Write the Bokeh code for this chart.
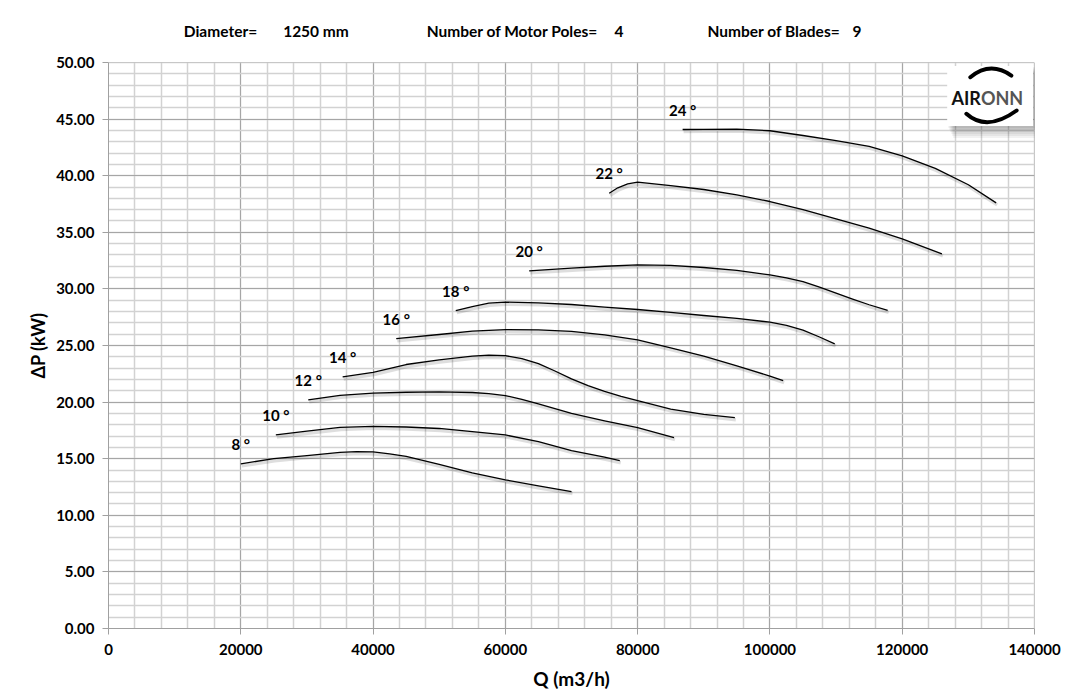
from bokeh.plotting import figure
from bokeh.models import Range1d, SingleIntervalTicker, PrintfTickFormatter, LinearAxis, FixedTicker
from bokeh.core.properties import value
from bokeh.embed import file_html
from bokeh.resources import INLINE

# ---------------- data ----------------
angles = [8, 10, 12, 14, 16, 18, 20, 22, 24]

q8 = [20000, 25000, 30000, 35000, 37500, 40000, 42500, 45000, 50000, 55000, 60000, 65000, 70000]
p8 = [14.55, 15.0, 15.28, 15.55, 15.63, 15.6, 15.43, 15.2, 14.5, 13.75, 13.13, 12.6, 12.1]

q10 = [25300, 30000, 35000, 40000, 45000, 50000, 55000, 60000, 65000, 70000, 75000, 77300]
p10 = [17.1, 17.43, 17.76, 17.86, 17.8, 17.67, 17.4, 17.1, 16.5, 15.72, 15.13, 14.82]

q12 = [30200, 35000, 40000, 45000, 50000, 55000, 57500, 60000, 62500, 65000, 70000, 75000, 80000, 85500]
p12 = [20.2, 20.6, 20.8, 20.87, 20.9, 20.85, 20.75, 20.58, 20.25, 19.85, 19.0, 18.35, 17.75, 16.87]

q14 = [35400, 40000, 45000, 50000, 55000, 57500, 60000, 62500, 65000, 67500, 70000, 72500, 75000, 77500, 80000, 85000, 90000, 94700]
p14 = [22.22, 22.62, 23.32, 23.73, 24.06, 24.15, 24.1, 23.85, 23.4, 22.75, 22.05, 21.45, 20.95, 20.5, 20.12, 19.38, 18.92, 18.62]

q16 = [43500, 50000, 55000, 60000, 65000, 70000, 75000, 80000, 85000, 90000, 95000, 100000, 102000]
p16 = [25.6, 25.97, 26.27, 26.41, 26.38, 26.24, 25.94, 25.5, 24.8, 24.06, 23.2, 22.3, 21.9]

q18 = [52500, 55000, 57500, 60000, 65000, 70000, 75000, 80000, 85000, 90000, 95000, 100000, 102500, 105000, 107500, 109800]
p18 = [28.09, 28.44, 28.74, 28.83, 28.77, 28.62, 28.39, 28.18, 27.92, 27.65, 27.4, 27.06, 26.78, 26.35, 25.75, 25.15]

q20 = [63600, 70000, 75000, 80000, 85000, 90000, 95000, 100000, 102500, 105000, 107500, 110000, 112500, 115000, 117800]
p20 = [31.6, 31.83, 32.0, 32.13, 32.07, 31.89, 31.63, 31.24, 30.98, 30.65, 30.15, 29.62, 29.1, 28.6, 28.1]

q22 = [75700, 77000, 78500, 80000, 85000, 90000, 95000, 100000, 105000, 110000, 115000, 120000, 126000]
p22 = [38.45, 38.93, 39.28, 39.43, 39.13, 38.78, 38.31, 37.72, 37.01, 36.19, 35.36, 34.42, 33.1]

q24 = [86800, 90000, 95000, 100000, 105000, 110000, 115000, 120000, 125000, 130000, 134200]
p24 = [44.08, 44.1, 44.12, 43.97, 43.55, 43.1, 42.6, 41.75, 40.65, 39.2, 37.6]

curves_q = [q8, q10, q12, q14, q16, q18, q20, q22, q24]
curves_p = [p8, p10, p12, p14, p16, p18, p20, p22, p24]

x_ticks_step = 20000
y_ticks_step = 5
header_texts = ["Diameter=", "1250 mm", "Number of Motor Poles=", "4", "Number of Blades=", "9"]
header_pos = [16930, 31370, 61070, 77170, 100600, 113150]

FONT = "Lato"

# ---------------- figure ----------------
p = figure(width=1073, height=697,
           x_range=Range1d(0, 140000.01), y_range=Range1d(0, 50.0001),
           output_backend="svg", toolbar_location=None,
           min_border_left=108, min_border_right=39,
           min_border_top=62, min_border_bottom=69)
p.outline_line_color = None
p.background_fill_color = "white"
p.border_fill_color = "white"

xt = SingleIntervalTicker(interval=x_ticks_step, num_minor_ticks=5)
yt = SingleIntervalTicker(interval=y_ticks_step, num_minor_ticks=5)
p.xaxis.ticker = xt
p.yaxis.ticker = yt
p.xgrid.ticker = xt
p.ygrid.ticker = yt
p.xaxis.formatter = PrintfTickFormatter(format="%d")
p.yaxis.formatter = PrintfTickFormatter(format="%.2f")

for g in (p.xgrid, p.ygrid):
    g.grid_line_color = "#a6a6a6"
    g.grid_line_width = 1
    g.minor_grid_line_color = "#d2d2d2"
    g.minor_grid_line_width = 1.5

for ax in (p.xaxis, p.yaxis):
    ax.axis_line_color = "#a0a0a0"
    ax.major_tick_line_color = "#a0a0a0"
    ax.major_tick_out = 6
    ax.major_tick_in = 0
    ax.minor_tick_line_color = None
    ax.major_label_text_font = FONT
    ax.major_label_text_font_style = "bold"
    ax.major_label_text_font_size = "15px"
    ax.major_label_text_color = "black"
    ax.axis_label_text_font = FONT
    ax.axis_label_text_font_style = "bold"
    ax.axis_label_text_color = "black"

p.xaxis.axis_label = "Q (m3/h)"
p.yaxis.axis_label = "ΔP (kW)"
p.xaxis.axis_label_text_font_size = "19px"
p.yaxis.axis_label_text_font_size = "18px"
p.xaxis.major_label_standoff = 9
p.yaxis.major_label_standoff = 8
p.xaxis.axis_label_standoff = 9
p.yaxis.axis_label_standoff = 4

# header line as a label-only axis above the plot
top_ax = LinearAxis(ticker=FixedTicker(ticks=header_pos),
                    major_label_overrides={float(k): t for k, t in zip(header_pos, header_texts)})
top_ax.axis_line_color = None
top_ax.major_tick_line_color = None
top_ax.minor_tick_line_color = None
top_ax.major_tick_out = 0
top_ax.major_tick_in = 0
top_ax.major_label_standoff = 23
top_ax.major_label_text_font = FONT
top_ax.major_label_text_font_style = "bold"
top_ax.major_label_text_font_size = "15.5px"
top_ax.major_label_text_color = "black"
p.add_layout(top_ax, "above")

# shadow ranges (shift 1px right, 2px down)
p.extra_x_ranges = {"shx": Range1d(-150, 140000 - 150)}
p.extra_y_ranges = {"shy": Range1d(0.18, 50.18)}

for q, pv in zip(curves_q, curves_p):
    p.line(q, pv, x_range_name="shx", y_range_name="shy",
           line_color="black", line_alpha=0.13, line_width=3.5, line_join="round")
for q, pv in zip(curves_q, curves_p):
    p.line(q, pv, line_color="black", line_width=1.3, line_join="round")

p.text(x=[q[0] for q in curves_q], y=[pv[0] for pv in curves_p],
       text=[f"{a} °" for a in angles],
       text_align="center", text_baseline="middle", y_offset=-20,
       text_font=value(FONT), text_font_style="bold", text_font_size="15px",
       text_color="black")

# ---------------- logo ----------------
for i in range(6):
    d = i + 1
    p.quad(left=126800 + d * 150, right=139800 + d * 300, top=49.7 - d * 0.1, bottom=44.4 - d * 0.18,
           fill_color="black", fill_alpha=0.05, line_color=None)
p.quad(left=126800, right=139800, top=49.7, bottom=44.4, fill_color="white", line_color=None)
p.quadratic(x0=130300, y0=48.7, x1=136500, y1=48.85, cx=133300, cy=50.16,
            line_color="black", line_width=4, line_cap="round")
p.quadratic(x0=129700, y0=45.47, x1=137300, y1=45.76, cx=132800, cy=43.85,
            line_color="black", line_width=4, line_cap="round")
p.text(x=[131900], y=[46.82], text=["AIR"], text_align="right", text_baseline="middle",
       text_font=value(FONT), text_font_style="bold", text_font_size="18px", text_color="#111111")
p.text(x=[131900], y=[46.82], text=["ONN"], text_align="left", text_baseline="middle",
       text_font=value(FONT), text_font_style="bold", text_font_size="18px", text_color="#555555")

open("out.html", "w").write(file_html(p, INLINE))
